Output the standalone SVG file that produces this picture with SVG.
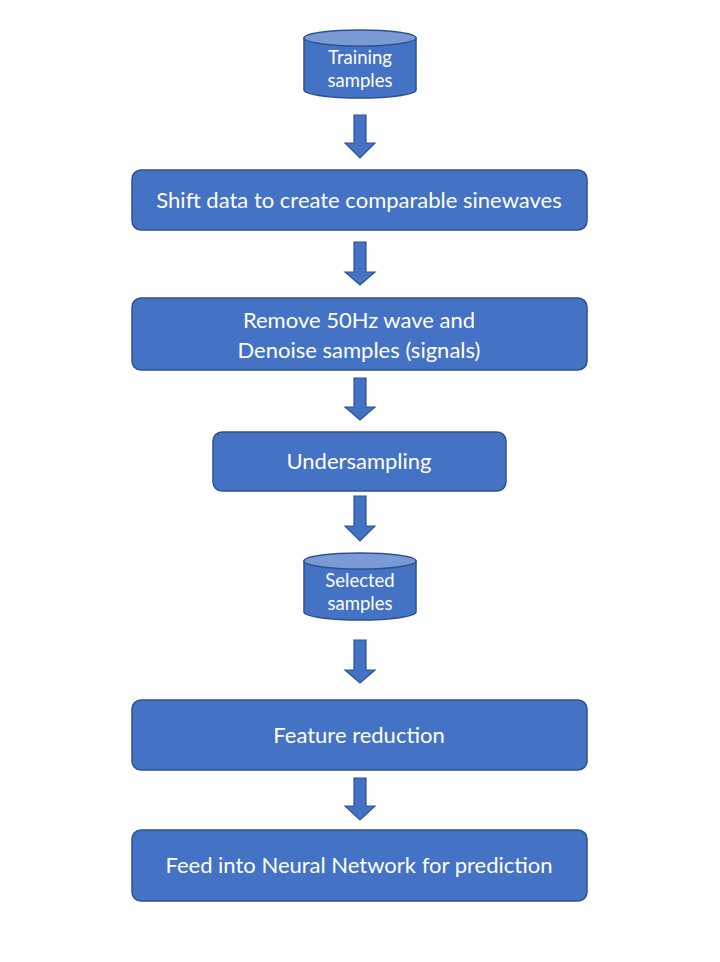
<svg xmlns="http://www.w3.org/2000/svg" width="720" height="962" viewBox="0 0 720 962">
<style>
.box{fill:#4472C4;stroke:#2F528F;stroke-width:1.5}
.cyl{fill:#4472C4;stroke:#2F528F;stroke-width:1.5}
.cyltop{fill:#7A9AD6;stroke:#2F528F;stroke-width:1.5}
.arr{fill:#4472C4;stroke:#2F528F;stroke-width:1.2}
.t{font-family:Lato,"Open Sans",sans-serif;fill:#ffffff;text-anchor:middle;font-size:22px}
.ts{font-family:Lato,"Open Sans",sans-serif;fill:#ffffff;text-anchor:middle;font-size:18.5px}
</style>
<rect width="720" height="962" fill="#ffffff"/>
<g id="connectors">
<polygon class="arr" points="354,115 366,115 366,143 375,143 360,158 345,143 354,143"/>
<polygon class="arr" points="354,242 366,242 366,272 375,272 360,285 345,272 354,272"/>
<polygon class="arr" points="354,378 366,378 366,407 375,407 360,420 345,407 354,407"/>
<polygon class="arr" points="354,496 366,496 366,526 375,526 360,541 345,526 354,526"/>
<polygon class="arr" points="354,640 366,640 366,670 375,670 360,683 345,670 354,670"/>
<polygon class="arr" points="354,778 366,778 366,806 375,806 360,820 345,806 354,806"/>
</g>
<g id="training-samples">
<path class="cyl" d="M304,38 V90 A56,8 0 0 0 416,90 V38 Z"/>
<ellipse class="cyltop" cx="360" cy="38" rx="56" ry="8"/>
<text class="ts" x="360" y="64">Training</text>
<text class="ts" x="360" y="87">samples</text>
</g>
<g id="shift-data">
<rect class="box" x="132" y="170" width="455" height="60" rx="9"/>
<text class="t" x="359" y="208">Shift data to create comparable sinewaves</text>
</g>
<g id="remove-50hz">
<rect class="box" x="132" y="298" width="455" height="72" rx="9"/>
<text class="t" x="359" y="328">Remove 50Hz wave and</text>
<text class="t" x="359" y="358">Denoise samples (signals)</text>
</g>
<g id="undersampling">
<rect class="box" x="213" y="432" width="293" height="59" rx="9"/>
<text class="t" x="359" y="469">Undersampling</text>
</g>
<g id="selected-samples">
<path class="cyl" d="M304,561 V612 A56,8 0 0 0 416,612 V561 Z"/>
<ellipse class="cyltop" cx="360" cy="561" rx="56" ry="8"/>
<text class="ts" x="360" y="587">Selected</text>
<text class="ts" x="360" y="610">samples</text>
</g>
<g id="feature-reduction">
<rect class="box" x="132" y="700" width="455" height="70" rx="9"/>
<text class="t" x="359" y="743">Feature reduction</text>
</g>
<g id="neural-network">
<rect class="box" x="132" y="830" width="455" height="71" rx="9"/>
<text class="t" x="359" y="873">Feed into Neural Network for prediction</text>
</g>
</svg>
